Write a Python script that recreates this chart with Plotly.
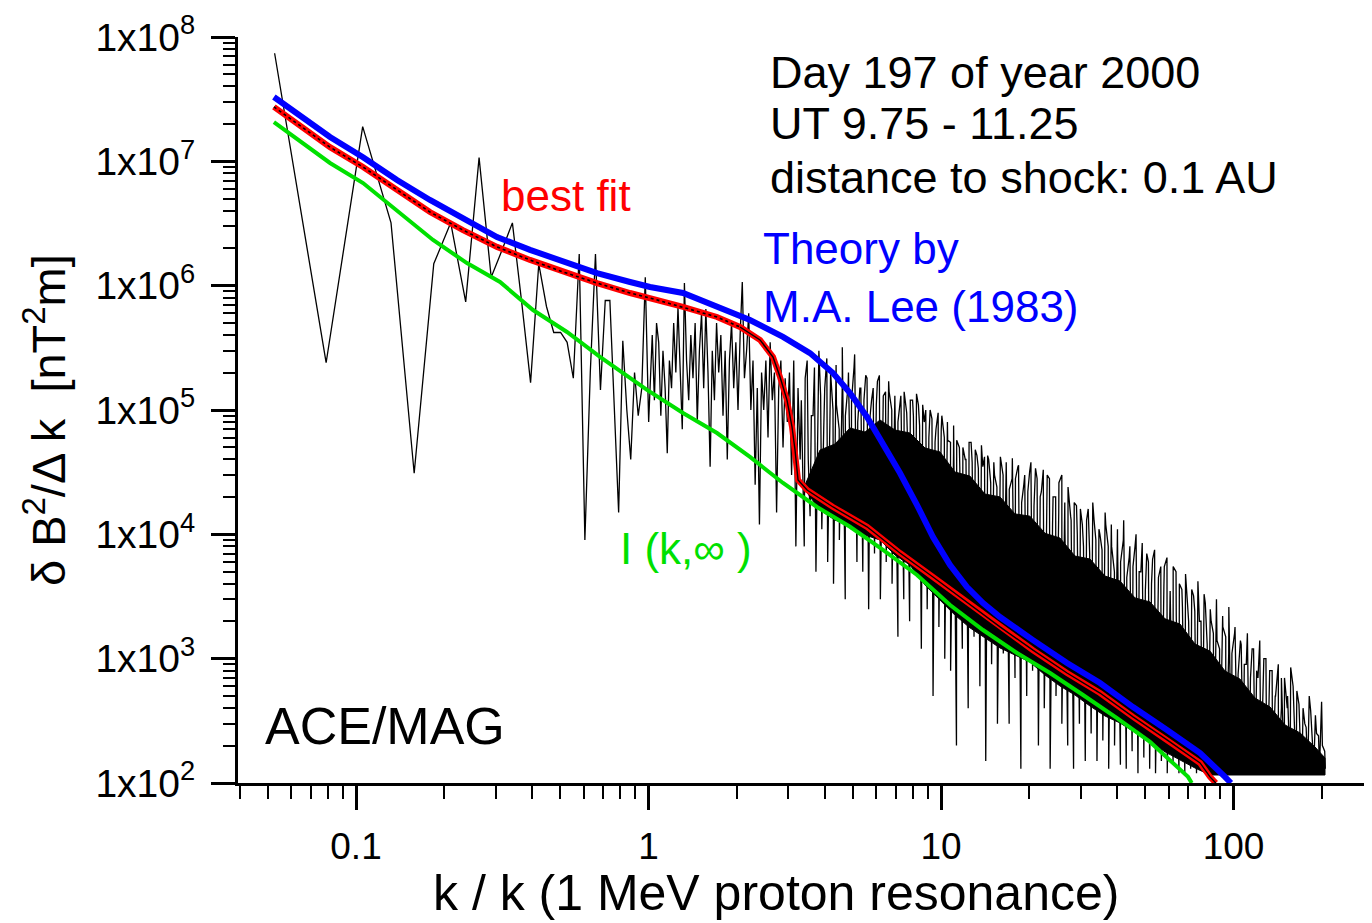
import numpy as np
import plotly.graph_objects as go

# ---------------- data ----------------
# measured spectrum, low-k part: one value per Fourier bin k = n * DK, n = 2..38
DK = 0.02635
LOW_N_START = 2
LOW_VALUES = [7.4e7, 2.4e5, 1.9e7, 3.2e6, 3.1e4, 1.5e6, 3.2e6, 7.4e5, 1.07e7, 1.17e6,
              1.95e6, 3.2e6, 7.2e5, 1.66e5, 1.5e6, 6.8e5, 4.2e5, 4.2e5, 3.5e5, 1.8e5,
              1.8e6, 9e3, 2.0e5, 1.8e6, 1.45e5, 7.6e5, 7.6e5, 1.0e5, 1.5e4, 3.6e5,
              1.0e5, 4.0e4, 2e5, 9e4, 1.5e5, 1.17e6, 8e4]

# measured spectrum, middle part (k = 1.03 .. 3.30, log-spaced samples)
MID_K_RANGE = (1.03, 3.30)
MID_VALUES = [4e5, 1.2e5, 5e5, 3.5e5, 9e4, 3e5, 1.5e5, 4.5e4, 2.5e5, 1.5e5,
              5e5, 2e5, 6.7e5, 2e5, 7e4, 1.05e6, 2.5e5, 1.2e5, 4e5, 1.8e5,
              5e5, 8e4, 3e5, 6e5, 1.5e5, 6.5e5, 2e5, 3.5e4, 3e5, 1.2e5,
              5e5, 2e5, 4e5, 9e4, 3e5, 4e4, 2.5e5, 5e5, 1.5e5, 3.5e5,
              1e5, 4e5, 1.07e6, 1.8e5, 3e5, 6e5, 1e5, 2.5e5, 2.5e4, 1.5e5,
              1.2e4, 2e5, 1e5, 2.5e5, 6e4, 3.5e5, 1.2e5, 2e5, 1.5e4, 1.5e5,
              2.5e5, 5e4, 1.8e5, 8e4, 2e5, 3e4, 2.5e5, 8e3, 1.5e5, 4e4]

# measured spectrum, high-k part (k = 3.33 .. 206, log-spaced samples)
HIGH_K_RANGE = (3.33, 206.0)
HIGH_VALUES = [
    1.2e5, 8e3, 2.5e5, 1.4e4, 9e4, 5e3, 3e5, 1.1e4, 1.5e5, 6e3,
    2e5, 4e3, 1.1e5, 9e3, 3.2e5, 3e3, 1.6e5, 1.1e4, 2.2e5, 6e3,
    1.5e5, 5e3, 1.9e5, 2.5e3, 1.2e5, 7e3, 1.7e5, 3e3, 1.3e5, 6e3,
    1.4e5, 4e3, 1.1e5, 1.5e3, 1.3e5, 3e3, 9.5e4, 2e3, 1.2e5, 5e3,
    1.1e5, 1.2e3, 8e4, 2.5e3, 1e5, 5e2, 7e4, 1.8e3, 9e4, 1e3,
    5.7e4, 8e2, 4.5e4, 2e2, 5e4, 1.2e3, 4e4, 4e2, 5.5e4, 1.5e3,
    4.3e4, 6e2, 3.5e4, 1.5e2, 4e4, 9e2, 3e4, 3e2, 4.2e4, 1.1e3,
    3.8e4, 3e2, 2.8e4, 7e2, 3.5e4, 1.3e2, 2.5e4, 5e2, 3.2e4, 8e2,
    3.4e4, 2e2, 2.2e4, 4e2, 3e4, 1.3e2, 2e4, 5e2, 2.6e4, 3e2,
    1.8e4, 2e2, 1.4e4, 1.3e2, 1.7e4, 3e2, 1.2e4, 1.5e2, 1.6e4, 2.5e2,
    1.3e4, 1.5e2, 1e4, 2.2e2, 1.2e4, 1.3e2, 8e3, 2e2, 1.1e4, 1.4e2,
    9e3, 1.3e2, 6.5e3, 1.8e2, 8e3, 1.2e2, 5e3, 1.6e2, 7e3, 1.3e2,
    6.3e3, 1.2e2, 4.5e3, 1.5e2, 5.5e3, 1.2e2, 3.5e3, 1.4e2, 5e3, 1.2e2,
    3.6e3, 1.2e2, 2.6e3, 1.3e2, 3.2e3, 1.2e2, 2e3, 1.3e2, 2.8e3, 1.2e2,
    2e3, 1.2e2, 1.4e3, 1.3e2, 1.8e3, 1.2e2, 1.1e3, 1.25e2, 1.6e3, 1.2e2,
    1.4e3, 1.2e2, 9e2, 1.3e2, 1.2e3, 1.2e2, 7e2, 1.25e2, 1e3, 1.2e2,
    8e2, 1.2e2, 5e2, 1.3e2, 7e2, 1.2e2, 4e2, 1.25e2, 6e2, 1.2e2,
    4.3e2, 1.2e2, 3e2, 1.3e2, 3.8e2, 1.2e2, 2.5e2, 1.3e2, 2e2, 1.3e2]

# further high-k samples (k = 3.35 .. 205, log-spaced), upper part of the band
HIGH_B_K_RANGE = (3.35, 205.0)
HIGH_B_VALUES = [
    6e4, 1.8e5, 4e4, 9e4, 2.2e5, 5e4, 1.3e5, 7e4, 2.6e5, 8e4,
    1e5, 2.3e5, 7e4, 1.6e5, 9e4, 2e5, 1.2e5, 2.8e5, 8e4, 1.5e5,
    1.2e5, 1.8e5, 9e4, 1.5e5, 1.1e5, 1.9e5, 8e4, 1.4e5, 1.7e5, 1e5,
    1.3e5, 8e4, 1.1e5, 1.4e5, 7e4, 1.2e5, 9e4, 1.35e5, 7.5e4, 1.1e5,
    1e5, 6e4, 8.5e4, 5.5e4, 9.5e4, 7e4, 6e4, 8e4, 5.5e4, 7.5e4,
    5.7e4, 3.5e4, 5e4, 4e4, 5.5e4, 3.8e4, 4.8e4, 3.4e4, 5.2e4, 4.2e4,
    4.3e4, 2.6e4, 3.8e4, 2.4e4, 4e4, 3e4, 3.5e4, 2.3e4, 4.1e4, 2.8e4,
    3.6e4, 1.8e4, 3e4, 2.2e4, 3.8e4, 1.7e4, 2.8e4, 2e4, 3.3e4, 1.6e4,
    2.8e4, 1.2e4, 2e4, 1.5e4, 3e4, 1.1e4, 2.4e4, 1.3e4, 1.8e4, 1e4,
    1.6e4, 8e3, 1.3e4, 7e3, 1.8e4, 9e3, 1.1e4, 7.5e3, 1.5e4, 8e3,
    1.2e4, 5e3, 9e3, 6e3, 1.3e4, 4.5e3, 8e3, 5.5e3, 1e4, 5e3,
    8.5e3, 3.5e3, 6e3, 4e3, 7.5e3, 3e3, 5.5e3, 3.8e3, 6.5e3, 3.2e3,
    5.5e3, 2.2e3, 4e3, 2.6e3, 4.8e3, 2e3, 3.6e3, 2.4e3, 4.2e3, 2e3,
    3.3e3, 1.3e3, 2.5e3, 1.6e3, 3e3, 1.2e3, 2.2e3, 1.5e3, 2.6e3, 1.1e3,
    1.8e3, 7.5e2, 1.3e3, 9e2, 1.6e3, 7e2, 1.2e3, 8e2, 1.4e3, 6.5e2,
    1e3, 4.5e2, 8e2, 5e2, 9e2, 4e2, 7e2, 5e2, 8.5e2, 4e2,
    5.5e2, 2.5e2, 4e2, 2.8e2, 5e2, 2.2e2, 3.5e2, 2.4e2, 4.5e2, 1.8e2]

# dense (solid) core of the measured spectrum at high k: upper / lower edges
CORE_K = [3.428, 3.858, 4.342, 4.886, 5.499, 6.187, 6.962, 7.834, 8.816, 9.922,
          11.16, 12.56, 14.13, 15.91, 17.90, 20.14, 22.67, 25.51, 28.71, 32.31,
          36.36, 40.93, 46.04, 51.82, 58.32, 65.63, 73.86, 83.12, 93.52, 105.2,
          118.4, 133.3, 150.0, 168.8, 189.9, 205.5]
CORE_UP = [2.49e4, 4.76e4, 5.33e4, 7.16e4, 6.65e4, 8.31e4, 6.9e4, 6.53e4, 4.95e4, 4.6e4,
           3.17e4, 2.94e4, 2.11e4, 2.0e4, 1.46e4, 1.4e4, 1.02e4, 9.34e3, 6.69e3, 6.33e3,
           4.62e3, 4.21e3, 3.08e3, 2.86e3, 2.09e3, 1.9e3, 1.31e3, 1.15e3, 7.96e2, 6.86e2,
           4.83e2, 4.09e2, 2.93e2, 2.53e2, 1.95e2, 1.59e2]
CORE_LO = [2.27e4, 1.57e4, 1.3e4, 1.19e4, 9.88e3, 9.0e3, 6.82e3, 5.66e3, 3.91e3, 2.96e3,
           2.24e3, 1.77e3, 1.47e3, 1.22e3, 1.07e3, 9.4e2, 7.39e2, 6.03e2, 5.1e2, 4.16e2,
           3.46e2, 3.04e2, 2.57e2, 2.14e2, 1.78e2, 1.53e2, 1.32e2, 1.16e2, 1.16e2, 1.16e2,
           1.16e2, 1.16e2, 1.16e2, 1.16e2, 1.16e2, 1.16e2]

# Theory by M.A. Lee (1983) - blue
BLUE_K = [0.0524, 0.0815, 0.1057, 0.1381, 0.179, 0.2321, 0.3034, 0.3935, 0.5101, 0.6668,
          0.8647, 1.012, 1.312, 1.715, 2.223, 2.883, 3.566, 4.274, 4.886, 5.585,
          6.335, 7.24, 8.281, 9.389, 10.74, 12.27, 13.92, 15.91, 20.63, 26.97,
          34.97, 45.34, 59.25, 76.85, 93.52, 98.0]
BLUE_V = [3.29e7, 1.57e7, 1.08e7, 7.08e6, 4.89e6, 3.50e6, 2.46e6, 1.94e6, 1.55e6, 1.26e6,
          1.07e6, 9.76e5, 8.73e5, 6.74e5, 5.29e5, 3.87e5, 2.87e5, 1.98e5, 1.37e5, 8.79e4,
          5.43e4, 3.11e4, 1.72e4, 9.52e3, 5.67e3, 3.77e3, 2.80e3, 2.16e3, 1.41e3, 9.23e2,
          6.37e2, 4.08e2, 2.67e2, 1.74e2, 1.12e2, 1.0e2]

# best fit - red
RED_K = [0.0524, 0.0815, 0.1057, 0.1381, 0.179, 0.2321, 0.3034, 0.3935, 0.5101, 0.6668,
         0.8647, 1.012, 1.312, 1.715, 2.055, 2.406, 2.665, 2.817, 2.975, 3.095,
         3.169, 3.245, 3.484, 4.274, 5.585, 7.24, 9.389, 12.27, 15.91, 20.63,
         26.97, 34.97, 45.34, 59.25, 76.85, 83.12, 87.0]
RED_V = [2.74e7, 1.30e7, 9.00e6, 5.88e6, 3.91e6, 2.80e6, 2.05e6, 1.61e6, 1.29e6, 1.05e6,
         8.73e5, 7.96e5, 6.74e5, 5.60e5, 4.65e5, 3.66e5, 2.67e5, 1.84e5, 1.20e5, 7.30e4,
         4.77e4, 2.74e4, 2.27e4, 1.66e4, 1.15e4, 7.08e3, 4.54e3, 2.86e3, 1.80e3, 1.17e3,
         7.67e2, 5.29e2, 3.40e2, 2.22e2, 1.45e2, 1.12e2, 1.0e2]
RED_DOTTED_UNTIL = 2.055

# I(k, inf) - green
GREEN_K = [0.0524, 0.0815, 0.1057, 0.1414, 0.1834, 0.2395, 0.3107, 0.4029, 0.5264, 0.6826,
           0.9884, 1.312, 1.715, 2.223, 2.883, 3.768, 4.886, 6.335, 8.281, 10.74,
           13.92, 18.19, 23.59, 30.59, 39.98, 51.83, 69.90, 72.0]
GREEN_V = [2.07e7, 9.70e6, 6.69e6, 3.84e6, 2.33e6, 1.52e6, 1.07e6, 6.37e5, 4.24e5, 2.67e5,
           1.45e5, 9.46e4, 6.53e4, 4.19e4, 2.59e4, 1.66e4, 1.15e4, 7.50e3, 4.71e3, 2.70e3,
           1.70e3, 1.11e3, 7.67e2, 5.10e2, 3.33e2, 2.14e2, 1.12e2, 1.0e2]

X_TICKS = [0.1, 1, 10, 100]
X_TICK_TEXT = ["0.1", "1", "10", "100"]
X_MINOR = [d * 10.0 ** e for e in range(-2, 3) for d in range(2, 10)]
Y_TICKS = [1e2, 1e3, 1e4, 1e5, 1e6, 1e7, 1e8]
Y_TICK_TEXT = ["1x10<sup>%d</sup>" % e for e in range(2, 9)]
Y_MINOR = [d * 10.0 ** e for e in range(2, 8) for d in range(2, 10)]

# ---------------- build ----------------
FONT = "Liberation Sans, Arial, sans-serif"
GREEN = "#00e000"

low_k = DK * np.arange(LOW_N_START, LOW_N_START + len(LOW_VALUES))
mid_k = np.geomspace(MID_K_RANGE[0], MID_K_RANGE[1], len(MID_VALUES))
high_k = np.concatenate([np.geomspace(HIGH_K_RANGE[0], HIGH_K_RANGE[1], len(HIGH_VALUES)),
                         np.geomspace(HIGH_B_K_RANGE[0], HIGH_B_K_RANGE[1], len(HIGH_B_VALUES))])
high_v = np.array(HIGH_VALUES + HIGH_B_VALUES)
order = np.argsort(high_k, kind="stable")
data_k = np.concatenate([low_k, mid_k, high_k[order]])
data_v = np.concatenate([np.array(LOW_VALUES + MID_VALUES), high_v[order]])

fig = go.Figure()
fig.add_trace(go.Scatter(x=CORE_K + CORE_K[::-1], y=CORE_UP + CORE_LO[::-1],
                         fill="toself", fillcolor="black", mode="lines",
                         line=dict(color="black", width=1), hoverinfo="skip"))
fig.add_trace(go.Scatter(x=data_k, y=data_v, mode="lines",
                         line=dict(color="black", width=1.3)))
fig.add_trace(go.Scatter(x=GREEN_K, y=GREEN_V, mode="lines",
                         line=dict(color=GREEN, width=4)))
fig.add_trace(go.Scatter(x=RED_K, y=RED_V, mode="lines",
                         line=dict(color="#ff0000", width=6)))
rk = np.array(RED_K)
rv = np.array(RED_V)
m1 = rk <= RED_DOTTED_UNTIL
m2 = rk >= RED_DOTTED_UNTIL
fig.add_trace(go.Scatter(x=rk[m1], y=rv[m1], mode="lines",
                         line=dict(color="black", width=1.6, dash="dot")))
fig.add_trace(go.Scatter(x=rk[m2], y=rv[m2], mode="lines",
                         line=dict(color="black", width=1.4)))
fig.add_trace(go.Scatter(x=BLUE_K, y=BLUE_V, mode="lines",
                         line=dict(color="#0000ff", width=6)))

# The page body adds an 8 px margin; the figure is sized so that the
# plot area lands at page pixels x 238..1368, y 37..783.
BODY = 8
PLOT_L, PLOT_T, PLOT_W, PLOT_H = 238, 37, 1130, 746
FIG_W, FIG_H = 1360, 915


def px_to_paper_x(px):
    return (px - PLOT_L) / PLOT_W


def py_to_paper_y(py):
    return (PLOT_T + PLOT_H - py) / PLOT_H


texts = [
    ("Day 197 of year 2000", 768, 72, "black", 45),
    ("UT 9.75 - 11.25", 768, 124, "black", 45),
    ("distance to shock: 0.1 AU", 768, 177, "black", 45),
    ("best fit", 499, 195, "#ff0000", 44),
    ("Theory by", 761, 249, "#0000ff", 44),
    ("M.A. Lee (1983)", 761, 306, "#0000ff", 44),
    ("I (k,\u221e )", 618, 548, GREEN, 44),
    ("ACE/MAG", 263, 726, "black", 52),
]
for t, px, py, col, size in texts:
    fig.add_annotation(text=t, x=px_to_paper_x(px), y=py_to_paper_y(py),
                       xref="paper", yref="paper", xanchor="left", yanchor="middle",
                       showarrow=False, font=dict(family=FONT, size=size, color=col))

fig.add_annotation(text="k / k (1 MeV proton resonance)",
                   x=px_to_paper_x(776), y=py_to_paper_y(893),
                   xref="paper", yref="paper", xanchor="center", yanchor="middle",
                   showarrow=False, font=dict(family=FONT, size=50, color="black"))
fig.add_annotation(text="\u03b4 B<sup>2</sup>/\u0394 k  [nT<sup>2</sup>m]",
                   x=px_to_paper_x(45), y=py_to_paper_y(420), textangle=-90,
                   xref="paper", yref="paper", xanchor="center", yanchor="middle",
                   showarrow=False, font=dict(family=FONT, size=47, color="black"))

fig.update_layout(
    width=FIG_W, height=FIG_H,
    margin=dict(l=PLOT_L - BODY, r=FIG_W - (PLOT_L - BODY) - PLOT_W,
                t=PLOT_T - BODY, b=FIG_H - (PLOT_T - BODY) - PLOT_H),
    paper_bgcolor="white", plot_bgcolor="white",
    showlegend=False,
    font=dict(family=FONT, color="black"),
    xaxis=dict(type="log", range=[-1.4034, 2.4598],
               showline=True, linecolor="black", linewidth=3,
               showgrid=False, zeroline=False,
               ticks="outside", ticklen=24, tickwidth=2.5, tickcolor="black",
               tickmode="array", tickvals=X_TICKS, ticktext=X_TICK_TEXT,
               tickfont=dict(family=FONT, size=37, color="black"),
               ticklabelstandoff=5,
               minor=dict(ticks="outside", ticklen=13, tickwidth=2,
                          tickcolor="black", tickmode="array", tickvals=X_MINOR,
                          showgrid=False)),
    yaxis=dict(type="log", range=[2, 8],
               showline=True, linecolor="black", linewidth=3,
               showgrid=False, zeroline=False,
               ticks="outside", ticklen=24, tickwidth=2.5, tickcolor="black",
               tickmode="array", tickvals=Y_TICKS, ticktext=Y_TICK_TEXT,
               tickfont=dict(family=FONT, size=39, color="black"),
               ticklabelstandoff=8,
               minor=dict(ticks="outside", ticklen=12, tickwidth=2,
                          tickcolor="black", tickmode="array", tickvals=Y_MINOR,
                          showgrid=False)),
)

fig.write_html("out.html")
